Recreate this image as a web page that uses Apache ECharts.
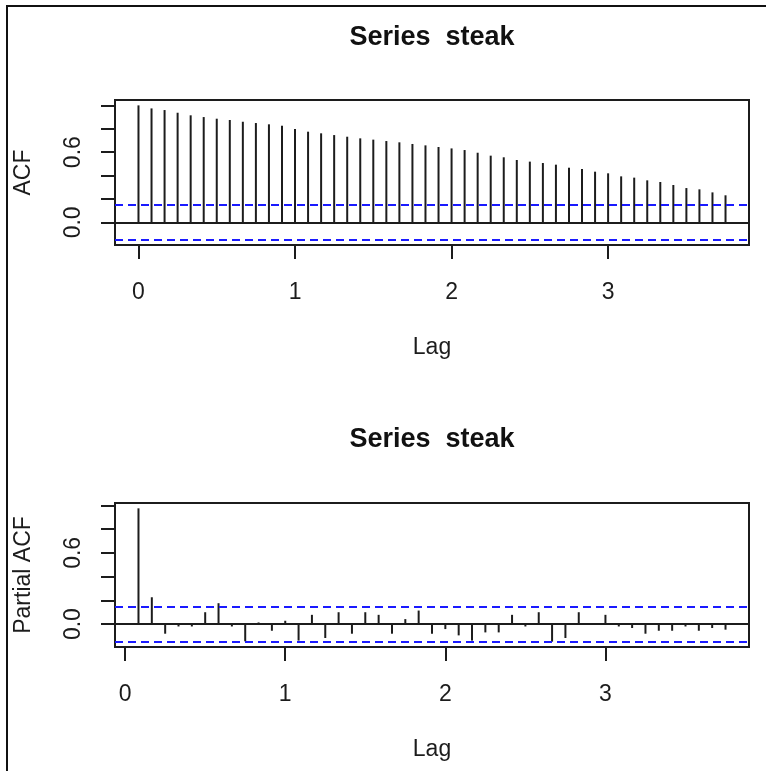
<!DOCTYPE html>
<html>
<head>
<meta charset="utf-8">
<script src="https://cdn.jsdelivr.net/npm/echarts@6/dist/echarts.min.js"></script>
<style>
  html, body { margin: 0; padding: 0; background: #fff; }
  #chart { width: 766px; height: 771px; }
</style>
</head>
<body>
<div id="chart"></div>
<script>
// Monthly series: lags are in years (lag k -> k / 12)
const frequency = 12;
const seriesName = 'steak';

// Sample autocorrelations, lags 0..45
const acfValues = [
  1.000, 0.974, 0.960, 0.937, 0.915, 0.900, 0.886, 0.875, 0.860, 0.849,
  0.838, 0.826, 0.798, 0.775, 0.761, 0.746, 0.732, 0.718, 0.707, 0.695,
  0.684, 0.670, 0.658, 0.644, 0.632, 0.618, 0.595, 0.570, 0.556, 0.533,
  0.519, 0.507, 0.493, 0.467, 0.456, 0.433, 0.419, 0.393, 0.382, 0.359,
  0.345, 0.319, 0.293, 0.282, 0.256, 0.231
];

// Sample partial autocorrelations, lags 1..45
const pacfValues = [
  0.975, 0.226, -0.081, -0.020, -0.020, 0.100, 0.176, -0.020, -0.145, 0.014,
  -0.056, 0.028, -0.139, 0.078, -0.117, 0.100, -0.081, 0.100, 0.078, -0.081,
  0.042, 0.114, -0.081, -0.042, -0.095, -0.139, -0.070, -0.070, 0.078, -0.020,
  0.100, -0.148, -0.117, 0.100, 0.004, 0.078, -0.020, -0.033, -0.081, -0.056,
  -0.056, -0.020, -0.056, -0.033, -0.047
];

// 95% confidence bound (white-noise limits)
const ciBound = 0.148;

const xTickValues = [0, 1, 2, 3];
const yTickValues = [0, 0.2, 0.4, 0.6, 0.8, 1.0];
const yLabelValues = [0, 0.6];

const acfPoints = acfValues.map((v, k) => [k / frequency, v]);
const pacfPoints = pacfValues.map((v, k) => [(k + 1) / frequency, v]);

// R-style range: data range padded by 4% on each side
function padRange(lo, hi) {
  const d = (hi - lo) * 0.04;
  return [lo - d, hi + d];
}
const acfX = padRange(acfPoints[0][0], acfPoints[acfPoints.length - 1][0]);
const pacfX = padRange(pacfPoints[0][0], pacfPoints[pacfPoints.length - 1][0]);
const acfY = padRange(Math.min(-ciBound, ...acfValues), Math.max(ciBound, ...acfValues));
const pacfY = padRange(Math.min(-ciBound, ...pacfValues), Math.max(ciBound, ...pacfValues));

const FONT = 'Liberation Sans, Arial, sans-serif';
const INK = '#1c1c1c';

function xAxisFor(gridIndex, range) {
  return {
    type: 'value', gridIndex, min: range[0], max: range[1],
    name: 'Lag', nameLocation: 'middle', nameGap: 91,
    nameTextStyle: { fontFamily: FONT, fontSize: 23, color: INK },
    axisLine: { show: false, onZero: false },
    splitLine: { show: false },
    axisTick: { show: true, length: 14, customValues: xTickValues, lineStyle: { color: INK, width: 2 } },
    axisLabel: { customValues: xTickValues, margin: 36, fontFamily: FONT, fontSize: 23, color: INK,
                 formatter: v => String(v) }
  };
}

function yAxisFor(gridIndex, range, title) {
  return {
    type: 'value', gridIndex, min: range[0], max: range[1],
    name: title, nameLocation: 'middle', nameGap: 80, nameRotate: 90,
    nameTextStyle: { fontFamily: FONT, fontSize: 23, color: INK },
    axisLine: { show: false, onZero: false },
    splitLine: { show: false },
    axisTick: { show: true, length: 14, customValues: yTickValues, lineStyle: { color: INK, width: 2 } },
    axisLabel: { customValues: yLabelValues, rotate: 90, margin: 30, fontFamily: FONT, fontSize: 23, color: INK,
                 formatter: v => v.toFixed(1) }
  };
}

function spikeSeries(index, points) {
  return {
    type: 'custom', xAxisIndex: index, yAxisIndex: index,
    data: points, silent: true,
    renderItem(params, api) {
      const x = api.value(0), v = api.value(1);
      const p0 = api.coord([x, 0]);
      const p1 = api.coord([x, v]);
      return {
        type: 'line',
        shape: { x1: p0[0], y1: p0[1], x2: p1[0], y2: p1[1] },
        style: { stroke: INK, lineWidth: 2 }
      };
    },
    markLine: {
      silent: true, symbol: 'none', animation: false,
      label: { show: false },
      data: [
        { yAxis: 0, lineStyle: { color: INK, type: 'solid', width: 2 } },
        { yAxis: ciBound, lineStyle: { color: '#1a1aff', type: [8, 5], width: 2 } },
        { yAxis: -ciBound, lineStyle: { color: '#1a1aff', type: [8, 5], width: 2 } }
      ]
    }
  };
}

const chart = echarts.init(document.getElementById('chart'), null, { renderer: 'canvas' });
chart.setOption({
  animation: false,
  backgroundColor: '#fff',
  title: [
    { text: 'Series  ' + seriesName, left: 432, top: 24, textAlign: 'center', padding: 0,
      textStyle: { fontFamily: FONT, fontSize: 27, fontWeight: 'bold', color: '#111' } },
    { text: 'Series  ' + seriesName, left: 432, top: 426, textAlign: 'center', padding: 0,
      textStyle: { fontFamily: FONT, fontSize: 27, fontWeight: 'bold', color: '#111' } }
  ],
  grid: [
    { left: 115, top: 100, width: 634, height: 145, show: true, borderColor: INK, borderWidth: 2, backgroundColor: 'transparent' },
    { left: 115, top: 503, width: 634, height: 144, show: true, borderColor: INK, borderWidth: 2, backgroundColor: 'transparent' }
  ],
  xAxis: [xAxisFor(0, acfX), xAxisFor(1, pacfX)],
  yAxis: [yAxisFor(0, acfY, 'ACF'), yAxisFor(1, pacfY, 'Partial ACF')],
  series: [spikeSeries(0, acfPoints), spikeSeries(1, pacfPoints)],
  graphic: [
    { type: 'polyline', silent: true,
      shape: { points: [[7, 771], [7, 6], [766, 6]] },
      style: { stroke: '#111', lineWidth: 2, fill: null } }
  ]
});
</script>
</body>
</html>
